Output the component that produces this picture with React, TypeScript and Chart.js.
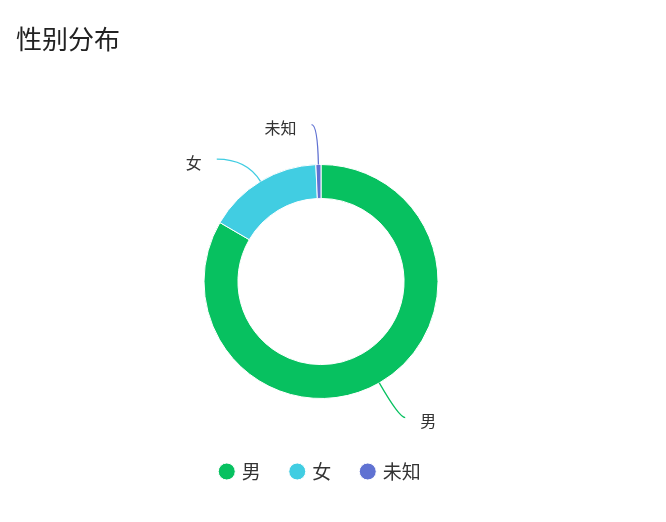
import React, { useEffect, useRef } from "react";
import { Chart, registerables } from "chart.js";

Chart.register(...registerables);

const categories = ["男", "女", "未知"];
const values = [834, 159, 7];
const colors = ["#07c160", "#41cde2", "#6072d2"];
const titleText = "性别分布";

const FONT = "'Noto Sans CJK SC', 'Noto Sans', sans-serif";
const LINE_LEN1 = 40;
const LINE_LEN2 = 6;
const TEXT_GAP = 15;
const MIN_LABEL_GAP = 34.5;

const outerLabels = {
  id: "outerLabels",
  afterDatasetsDraw(chart: any) {
    const meta = chart.getDatasetMeta(0);
    const ctx = chart.ctx;
    const items = meta.data.map((arc: any, i: number) => {
      const p = arc.getProps(["x", "y", "startAngle", "endAngle", "outerRadius"], true);
      const mid = (p.startAngle + p.endAngle) / 2;
      const ux = Math.cos(mid);
      const uy = Math.sin(mid);
      const rA = p.outerRadius + LINE_LEN1;
      return {
        i,
        cx: p.x,
        cy: p.y,
        ux,
        uy,
        rA,
        p0: [p.x + ux * p.outerRadius, p.y + uy * p.outerRadius],
        p1: [p.x + ux * rA, p.y + uy * rA],
        side: ux >= 0 ? 1 : -1,
        labelY: p.y + uy * rA,
        shifted: false,
      };
    });
    [1, -1].forEach((side) => {
      const list = items.filter((it: any) => it.side === side).sort((a: any, b: any) => a.labelY - b.labelY);
      for (let k = 1; k < list.length; k++) {
        if (list[k].labelY - list[k - 1].labelY < MIN_LABEL_GAP) {
          list[k].labelY = list[k - 1].labelY + MIN_LABEL_GAP;
          list[k].shifted = true;
        }
      }
    });
    ctx.save();
    items.forEach((it: any) => {
      let p1 = it.p1;
      let p2;
      if (it.shifted) {
        const t = Math.abs(it.uy) > 1e-3 ? (it.labelY - it.p0[1]) / it.uy : LINE_LEN1;
        p1 = [it.p0[0] + it.ux * t, it.labelY];
        const dy = it.labelY - it.cy;
        const dx = Math.sqrt(Math.max(it.rA * it.rA - dy * dy, 0));
        p2 = [it.cx + it.side * (dx + LINE_LEN2), it.labelY];
      } else {
        p2 = [p1[0] + it.side * LINE_LEN2, p1[1]];
      }
      ctx.beginPath();
      ctx.strokeStyle = colors[it.i];
      ctx.lineWidth = 1.3;
      ctx.moveTo(it.p0[0], it.p0[1]);
      ctx.quadraticCurveTo(p1[0], p1[1], p2[0], p2[1]);
      ctx.stroke();
      ctx.fillStyle = "#333";
      ctx.font = `16px ${FONT}`;
      ctx.textBaseline = "middle";
      ctx.textAlign = it.side > 0 ? "left" : "right";
      ctx.fillText(categories[it.i], p2[0] + it.side * TEXT_GAP, p2[1] + 3.5);
    });
    ctx.restore();
  },
};

export default function App() {
  const ref = useRef<HTMLCanvasElement | null>(null);
  useEffect(() => {
    if (!ref.current) return;
    const chart = new Chart(ref.current, {
      type: "doughnut",
      data: {
        labels: categories,
        datasets: [
          {
            data: values,
            backgroundColor: colors,
            borderColor: "#ffffff",
            borderWidth: 1,
            hoverOffset: 0,
          },
        ],
      },
      options: {
        animation: false,
        responsive: true,
        maintainAspectRatio: false,
        events: [],
        radius: 117,
        cutout: "71%",
        layout: { padding: { left: 16, right: 40, top: 0, bottom: 31 } },
        plugins: {
          tooltip: { enabled: false },
          title: {
            display: true,
            text: titleText,
            align: "start",
            color: "#222",
            font: { family: FONT, size: 26, weight: "normal", lineHeight: 1.2 },
            padding: { top: 23.6, bottom: 77.2 },
          },
          legend: {
            display: true,
            position: "bottom",
            labels: {
              usePointStyle: true,
              pointStyle: "circle",
              boxWidth: 11,
              boxHeight: 12,
              padding: 31,
              color: "#333",
              font: { family: FONT, size: 19 },
            },
          },
        },
      } as any,
      plugins: [outerLabels],
    });
    return () => chart.destroy();
  }, []);
  return (
    <div style={{ position: "absolute", left: 0, top: 0, width: 666, height: 522 }}>
      <canvas ref={ref} />
    </div>
  );
}
